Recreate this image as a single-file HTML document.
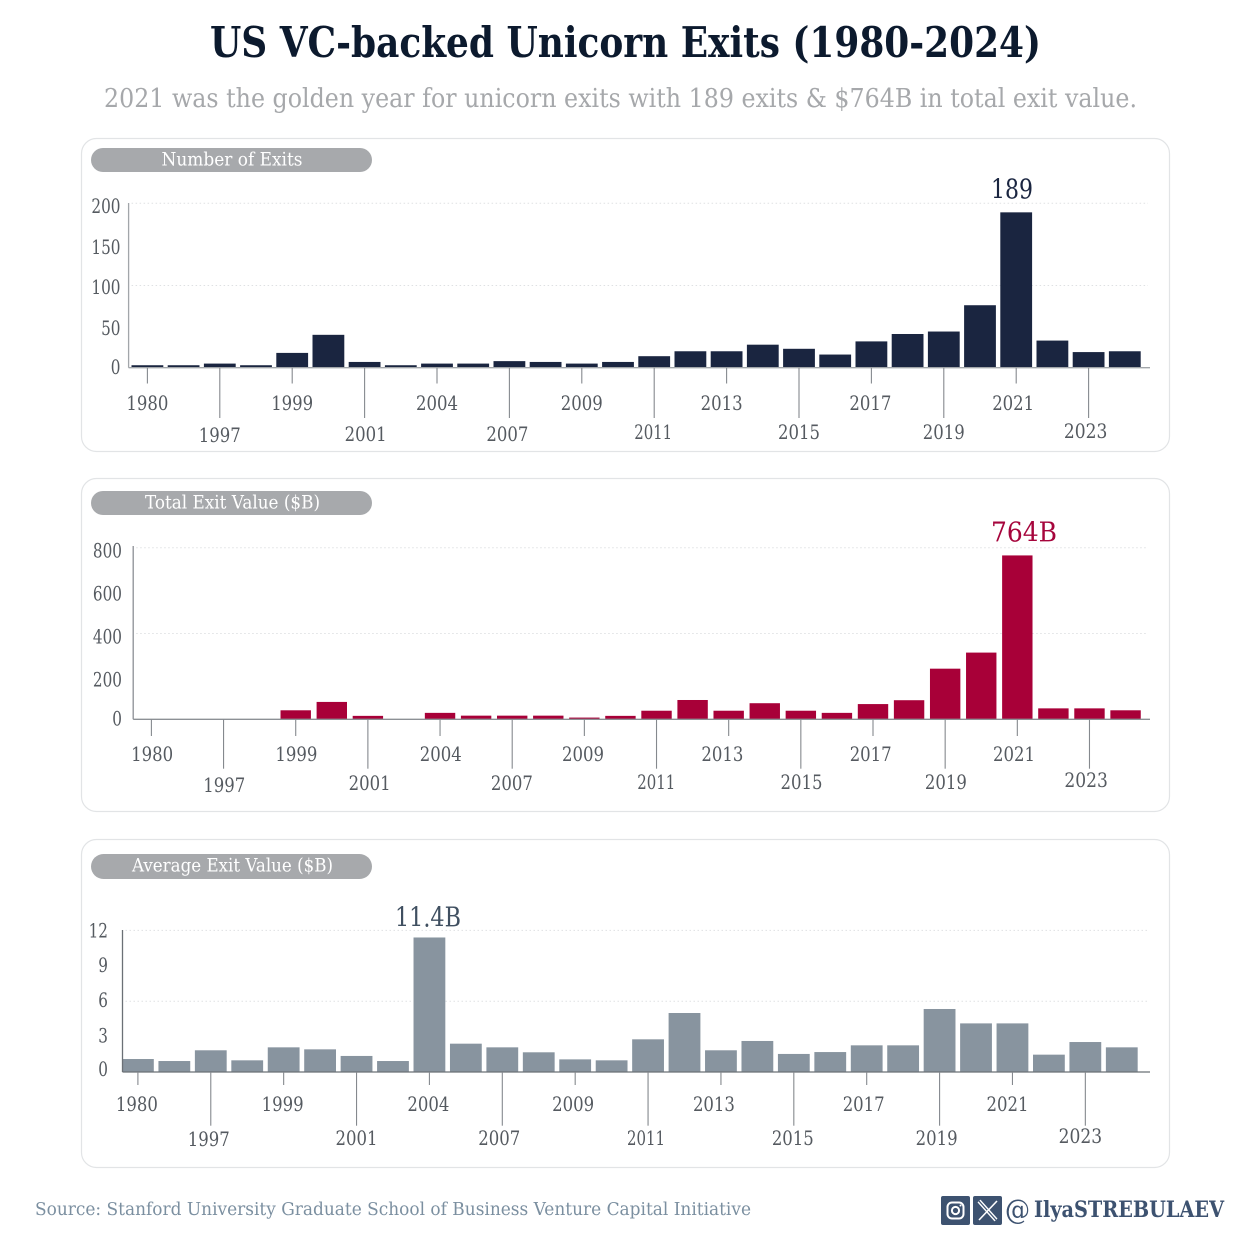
<!DOCTYPE html>
<html lang="en">
<head>
<meta charset="utf-8">
<title>US VC-backed Unicorn Exits (1980-2024)</title>
<style>
html,body{margin:0;padding:0;background:#fff;width:1248px;height:1252px;overflow:hidden}
svg{display:block}
text{font-family:"DejaVu Serif","Liberation Serif",serif}
</style>
</head>
<body>
<svg id="root" xmlns="http://www.w3.org/2000/svg" width="1248" height="1252" viewBox="0 0 1248 1252">
  <rect width="1248" height="1252" fill="#ffffff"/>
  <text x="625.5" y="57" text-anchor="middle" font-size="42" font-weight="700" fill="#0c1a2e" textLength="831" lengthAdjust="spacingAndGlyphs">US VC-backed Unicorn Exits (1980-2024)</text>
  <text x="620.5" y="107" text-anchor="middle" font-size="26" fill="#a6a8ab" textLength="1033" lengthAdjust="spacingAndGlyphs">2021 was the golden year for unicorn exits with 189 exits &amp; $764B in total exit value.</text>

  <rect x="81.5" y="138.5" width="1088" height="313" rx="15" fill="#fff" stroke="#e2e4e6" stroke-width="1.2"/>
  <rect x="91" y="148" width="281" height="24" rx="12" fill="#a7a9ac"/>
  <text x="232" y="165.5" text-anchor="middle" font-size="18.5" fill="#fff" textLength="141" lengthAdjust="spacingAndGlyphs">Number of Exits</text>

  <rect x="81.5" y="478.5" width="1088" height="333" rx="15" fill="#fff" stroke="#e2e4e6" stroke-width="1.2"/>
  <rect x="91" y="491" width="281" height="24" rx="12" fill="#a7a9ac"/>
  <text x="232.5" y="508.5" text-anchor="middle" font-size="18.5" fill="#fff" textLength="175" lengthAdjust="spacingAndGlyphs">Total Exit Value ($B)</text>

  <rect x="81.5" y="839.5" width="1088" height="328" rx="15" fill="#fff" stroke="#e2e4e6" stroke-width="1.2"/>
  <rect x="91" y="854" width="281" height="25" rx="12.5" fill="#a7a9ac"/>
  <text x="232.5" y="871.5" text-anchor="middle" font-size="18.5" fill="#fff" textLength="201" lengthAdjust="spacingAndGlyphs">Average Exit Value ($B)</text>

  <g id="chart-exits"></g>
  <g id="chart-total"></g>
  <g id="chart-average"></g>

  <text x="35" y="1215" font-size="17.5" fill="#7b8fa0" textLength="716" lengthAdjust="spacingAndGlyphs">Source: Stanford University Graduate School of Business Venture Capital Initiative</text>

  <g>
    <rect x="941" y="1196" width="29" height="29" rx="2" fill="#3d5270"/>
    <rect x="947.5" y="1202.5" width="16" height="16" rx="4.5" fill="none" stroke="#fff" stroke-width="2"/>
    <circle cx="955.5" cy="1210.5" r="3.6" fill="none" stroke="#fff" stroke-width="2"/>
    <circle cx="960.5" cy="1205.5" r="1" fill="#fff"/>
  </g>
  <g>
    <rect x="973" y="1196" width="29" height="29" rx="2" fill="#3d5270"/>
    <line x1="979" y1="1201" x2="996" y2="1220" stroke="#fff" stroke-width="4"/>
    <line x1="979" y1="1201" x2="996" y2="1220" stroke="#3d5270" stroke-width="1.3"/>
    <line x1="997" y1="1201" x2="979" y2="1220" stroke="#fff" stroke-width="1.6"/>
  </g>
  <text x="1005" y="1219" font-size="28" fill="#3d5270" textLength="25" lengthAdjust="spacingAndGlyphs">@</text>
  <text x="1034" y="1217" font-size="22" font-weight="700" fill="#3d5270" textLength="190" lengthAdjust="spacingAndGlyphs">IlyaSTREBULAEV</text>
</svg>

<script>
const years = ['1980','1994','1997','1998','1999','2000','2001','2003','2004','2005','2007','2008','2009','2010','2011','2012','2013','2014','2015','2016','2017','2018','2019','2020','2021','2022','2023','2024'];
const exitCounts = [3,3,5,3,18,40,7,3,5,5,8,7,5,7,14,20,20,28,23,16,32,41,44,76,189,33,19,20];
const totalValues = [0,0,0,0,42,81,16,0,30,17,17,17,8,16,40,90,40,75,40,30,71,89,236,311,764,51,51,42];
const averageValues = [1.1,0.93,1.84,0.99,2.09,1.92,1.36,0.93,11.4,2.4,2.09,1.67,1.07,0.99,2.77,5.0,1.84,2.63,1.53,1.69,2.26,2.26,5.34,4.12,4.12,1.47,2.54,2.09];
const tickYears = ['1980','1997','1999','2001','2004','2007','2009','2011','2013','2015','2017','2019','2021','2023'];
const exitTicks = [0,50,100,150,200];
const totalTicks = [0,200,400,600,800];
const averageTicks = [0,3,6,9,12];
const exitGrid = [100,200];
const totalGrid = [400,800];
const averageGrid = [6,12];
const exitCallout = '189';
const totalCallout = '764B';
const averageCallout = '11.4B';

const NS = 'http://www.w3.org/2000/svg';

function addLine(parent, x1, y1, x2, y2, stroke, sw, dash) {
  const el = document.createElementNS(NS, 'line');
  el.setAttribute('x1', x1);
  el.setAttribute('y1', y1);
  el.setAttribute('x2', x2);
  el.setAttribute('y2', y2);
  el.setAttribute('stroke', stroke);
  el.setAttribute('stroke-width', sw);
  if (dash) el.setAttribute('stroke-dasharray', dash);
  parent.appendChild(el);
  return el;
}

function addText(parent, str, x, y, size, fill, anchor, width) {
  const el = document.createElementNS(NS, 'text');
  el.textContent = str;
  el.setAttribute('x', x);
  el.setAttribute('y', y);
  el.setAttribute('font-size', size);
  el.setAttribute('fill', fill);
  el.setAttribute('text-anchor', anchor);
  el.setAttribute('textLength', width);
  el.setAttribute('lengthAdjust', 'spacingAndGlyphs');
  parent.appendChild(el);
  return el;
}

function drawChart(c) {
  const g = document.getElementById(c.id);
  const yPos = v => c.y0 - v * c.k;
  const xPos = i => c.x0 + c.pitch * i;

  c.grid.forEach(v => {
    const el = addLine(g, c.axisX + 3, yPos(v), 1148, yPos(v), '#dfe1e3', 1, '1.5 2.5');
    
    
  });

  c.ticks.forEach((v, i) => {
    const w = String(v).length * 9.7;
    const el = addText(g, String(v), c.tickRight, yPos(v) + c.tickDy[i] + 7, 19.5, '#555a60', 'end', w);
    
    
  });

  c.values.forEach((v, i) => {
    const r = document.createElementNS(NS, 'rect');
    r.setAttribute('x', xPos(i) - c.barW / 2);
    r.setAttribute('y', yPos(v));
    r.setAttribute('width', c.barW);
    r.setAttribute('height', Math.max(0, c.y0 - yPos(v)));
    r.setAttribute('fill', c.color);
    
    
    g.appendChild(r);
  });

  const yAxis = addLine(g, c.axisX, c.axisTop, c.axisX, c.y0, c.axisColor, 1.3);
  
  
  const xAxis = addLine(g, c.axisX, c.y0, 1150, c.y0, c.axisColor, 1.3);
  
  

  tickYears.forEach((yr, i) => {
    const idx = years.indexOf(yr);
    const x = xPos(idx);
    const end = i % 2 ? c.longEnd : c.shortEnd;
    const t = addLine(g, x, c.y0, x, end, '#85898e', 1.1);
    
    
    const w = yr === '2011' ? 38 : (yr === '2023' ? 43.5 : 42);
    const lab = addText(g, yr, x + c.labelDx[i], c.labelY[i] + 7, 19.5, '#555a60', 'middle', w);
    
    
  });

  const co = addText(g, c.callout, c.calloutX, c.calloutY, 27.5, c.calloutColor, 'middle', c.calloutW);
  
  
}

drawChart({
  id: 'chart-exits', values: exitCounts, ticks: exitTicks, grid: exitGrid, callout: exitCallout,
  y0: 367.7, k: 0.822, x0: 147.4, pitch: 36.2, barW: 31.8, axisX: 128.6, axisTop: 203,
  axisColor: '#a2a6aa', color: '#1a2540', tickRight: 120.5, tickDy: [-0.7, 1.4, 1.6, 2.6, 2.6],
  shortEnd: 383.5, longEnd: 418,
  labelDx: [0,0,0,1,0,-2,0,-1,-5,0,-1,0,-3,-3],
  labelY: [403,435,403,434,403,434,403,432,403,432,403,432,403,431],
  calloutX: 1012, calloutY: 198.5, calloutW: 42, calloutColor: '#1a2540'
});

drawChart({
  id: 'chart-total', values: totalValues, ticks: totalTicks, grid: totalGrid, callout: totalCallout,
  y0: 719.3, k: 0.2145, x0: 151.4, pitch: 36.08, barW: 30.4, axisX: 133.2, axisTop: 546,
  axisColor: '#8c9095', color: '#a80038', tickRight: 122, tickDy: [-1, 3, 3, 3, 3],
  shortEnd: 736, longEnd: 768.7,
  labelDx: [0.7,0.7,0.7,1.7,0.7,-0.3,-1.3,-0.3,-6.3,0.7,-2.3,0.7,-3.3,-3.3],
  labelY: [754,785,754,783,754,783,754,782,754,782,754,782,754,780],
  calloutX: 1024, calloutY: 541.5, calloutW: 66, calloutColor: '#a6053c'
});

drawChart({
  id: 'chart-average', values: averageValues, ticks: averageTicks, grid: averageGrid, callout: averageCallout,
  y0: 1072, k: 11.8, x0: 137.9, pitch: 36.44, barW: 31.8, axisX: 122.5, axisTop: 930,
  axisColor: '#6b7076', color: '#88949f', tickRight: 108, tickDy: [-3, -1, -1, -1, 0],
  shortEnd: 1085, longEnd: 1125.7,
  labelDx: [-1,-2,-1,0,-1,-3,-2,-2,-7,-1,-3,-3,-5,-5],
  labelY: [1104,1139,1104,1138,1104,1138,1104,1138,1104,1138,1104,1138,1104,1136],
  calloutX: 428, calloutY: 926.5, calloutW: 66, calloutColor: '#3f4f60'
});
</script>
</body>
</html>
